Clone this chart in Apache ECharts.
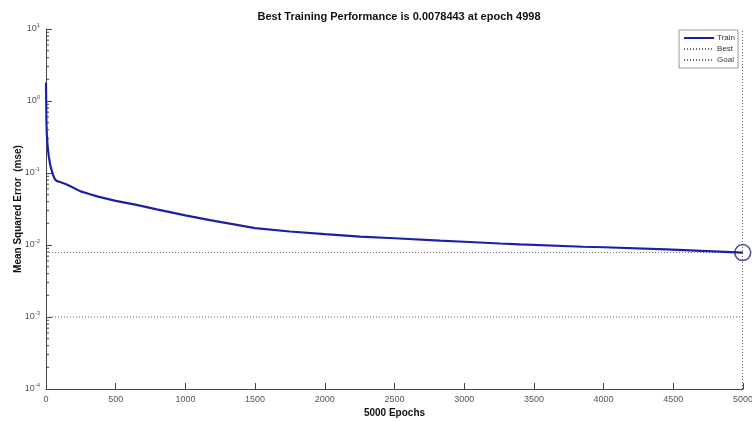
<!DOCTYPE html>
<html>
<head>
<meta charset="utf-8">
<script src="https://cdn.jsdelivr.net/npm/echarts@6/dist/echarts.min.js"></script>
<style>html,body{margin:0;padding:0;background:#fff}#c{width:752px;height:421px}</style>
</head>
<body>
<div id="c"></div>
<script>
var titleText = 'Best Training Performance is 0.0078443 at epoch 4998';
var epochs = [0,1,2,3,5,8,12,20,30,40,50,65,80,100,136,172,244,316,373,500,650,794,1000,1176,1500,1750,2000,2253,2500,2826,3000,3257,3400,3852,4000,4452,4700,4998];
var trainMse = [1.8,1.2,0.8,0.55,0.38,0.3,0.23,0.17,0.13,0.11,0.095,0.081,0.077,0.075,0.071,0.066,0.056,0.0506,0.047,0.041,0.036,0.0313,0.0258,0.0222,0.0172,0.0154,0.0142,0.0131,0.0124,0.0115,0.0111,0.0105,0.0102,0.00946,0.0093,0.0087,0.0083,0.0078443];
var bestEpoch = 4998;
var bestValue = 0.0078443;
var goalValue = 0.001;

var minorVals = [];
for (var n = -4; n <= 0; n++) for (var k = 2; k <= 9; k++) minorVals.push([0, k * Math.pow(10, n)]);

var chart = echarts.init(document.getElementById('c'));
var txt = '#555';
var ff = 'Liberation Sans, Arial';
chart.setOption({
  animation: false,
  title: {text: titleText, left: 394, textAlign: 'center', top: 6,
    textStyle: {fontSize: 11, fontWeight: 'bold', color: '#111', fontFamily: ff}},
  legend: {
    data: ['Train', 'Best', 'Goal'], orient: 'vertical', right: 14, top: 30,
    borderColor: '#999', borderWidth: 1, padding: [4, 3, 4, 4], itemGap: 3,
    itemWidth: 30, itemHeight: 6, backgroundColor: '#fff',
    itemStyle: {color: 'rgba(0,0,0,0)', borderWidth: 0},
    textStyle: {fontSize: 8, color: '#333', fontFamily: ff, padding: [0,0,0,-2]}
  },
  grid: {left: 46, right: 9, top: 29, bottom: 32, outerBoundsMode: 'none', containLabel: false},
  xAxis: {
    type: 'value', min: 0, max: 5000, interval: 500,
    name: '5000 Epochs', nameLocation: 'middle', nameGap: 19, nameMoveOverlap: false,
    nameTextStyle: {fontSize: 10, fontWeight: 'bold', color: '#111', fontFamily: ff},
    axisLine: {lineStyle: {color: '#444', width: 1}},
    axisTick: {inside: true, length: 6, lineStyle: {color: '#444'}},
    axisLabel: {fontSize: 9, color: txt, margin: 6, fontFamily: ff, formatter: function (v) { return String(v); }},
    splitLine: {show: false}
  },
  yAxis: {
    type: 'log', logBase: 10, min: 0.0001, max: 10,
    name: 'Mean Squared Error  (mse)', nameLocation: 'middle', nameGap: 23, nameMoveOverlap: false,
    nameTextStyle: {fontSize: 10, fontWeight: 'bold', color: '#111', fontFamily: ff},
    axisLine: {lineStyle: {color: '#444', width: 1}},
    axisTick: {inside: true, length: 6, lineStyle: {color: '#444'}},
    axisLabel: {
      margin: 6, color: txt,
      formatter: function (v) { var e = Math.round(Math.log10(v)); return '{b|10}{s|' + e + '}'; },
      rich: {
        b: {fontSize: 9, color: txt, fontFamily: ff},
        s: {fontSize: 6, color: txt, fontFamily: ff, padding: [0, 0, 7, 0]}
      }
    },
    splitLine: {show: false}
  },
  series: [
    {
      name: 'Train', type: 'line', data: epochs.map(function (e, i) { return [e, trainMse[i]]; }),
      showSymbol: false, symbol: 'none',
      lineStyle: {color: '#1f1fa6', width: 2.2}, itemStyle: {color: '#1f1fa6'}, z: 5
    },
    {
      name: 'Best', type: 'line', data: [[0, bestValue], [5000, bestValue]],
      symbol: 'none', lineStyle: {color: '#666', width: 1, type: [1, 2]}, itemStyle: {color: '#666'},
      markLine: {silent: true, symbol: 'none', label: {show: false},
        lineStyle: {color: '#666', width: 1, type: [1, 2]}, data: [{xAxis: bestEpoch}]}
    },
    {
      name: 'Goal', type: 'line', data: [[0, goalValue], [5000, goalValue]],
      symbol: 'none', lineStyle: {color: '#666', width: 1, type: [1, 2]}, itemStyle: {color: '#666'}
    },
    {
      name: 'bestMarker', type: 'scatter', data: [[bestEpoch, bestValue]], symbol: 'circle', symbolSize: 16,
      itemStyle: {color: 'rgba(0,0,0,0)', borderColor: '#1b1b80', borderWidth: 1.5}, z: 6
    },
    {
      name: 'minor', type: 'custom', data: minorVals, silent: true,
      renderItem: function (params, api) {
        var p = api.coord([0, api.value(1)]);
        return {type: 'line', shape: {x1: p[0], y1: p[1], x2: p[0] + 3, y2: p[1]},
          style: {stroke: '#444', lineWidth: 1}};
      }
    }
  ]
});
</script>
</body>
</html>
